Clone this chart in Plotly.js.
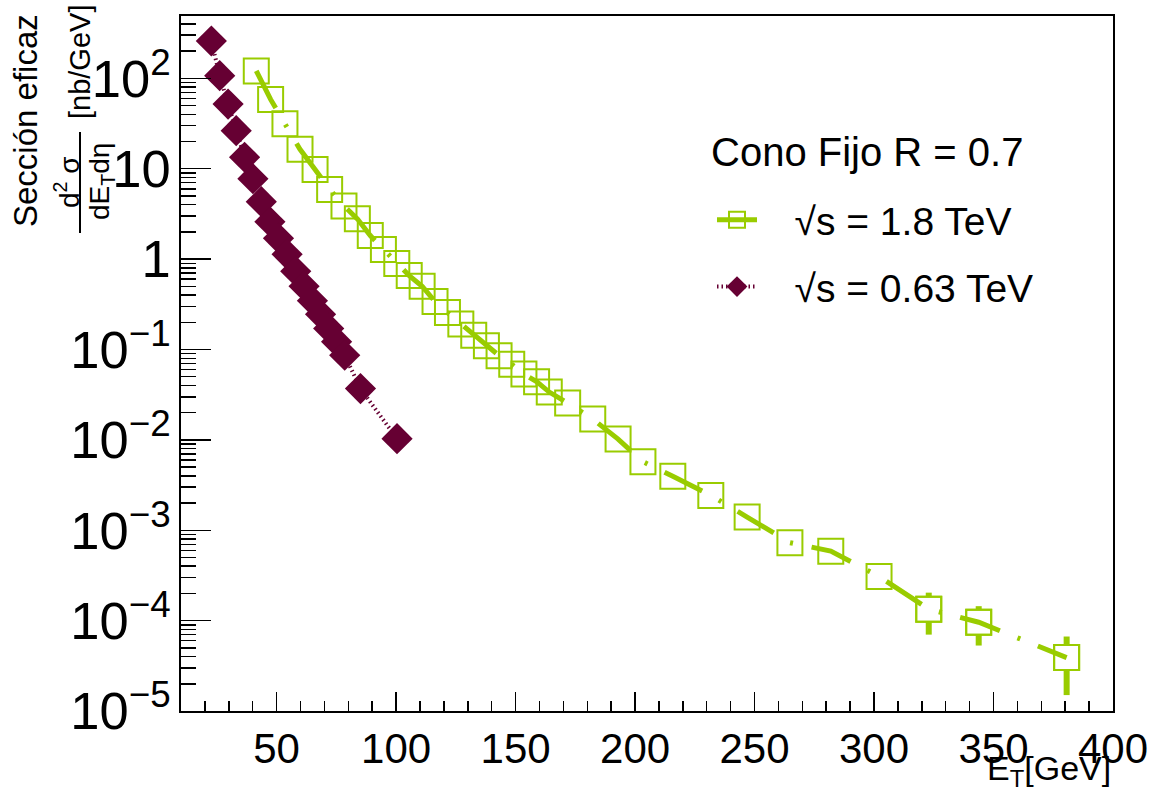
<!DOCTYPE html>
<html>
<head>
<meta charset="utf-8">
<script src="https://cdn.plot.ly/plotly-3.0.1.min.js"></script>
<style>html,body{margin:0;padding:0;background:#fff;}#chart{width:1155px;height:790px;}</style>
</head>
<body>
<div id="chart"></div>
<script>
// ---- data: sqrt(s) = 1.8 TeV ----
const et18 = [41.5, 47.5, 53.5, 59.8, 66.1, 72.2, 78.2, 83.8, 89.2, 94.7, 100.3, 105.5, 110.9, 116.3, 121.5, 127.1, 132.5, 137.8, 143.1, 148.4, 153.5, 158.8, 164.1, 171.8, 182.3, 192.9, 203.3, 215.8, 231.7, 246.9, 264.8, 281.9, 302.1, 322.9, 343.8, 380.6];
const xs18 = [121, 58.5, 31.4, 16.4, 9.83, 5.90, 3.88, 2.79, 1.82, 1.28, 0.892, 0.657, 0.501, 0.340, 0.256, 0.191, 0.144, 0.110, 0.0855, 0.0685, 0.0535, 0.0441, 0.0338, 0.0256, 0.0170, 0.0102, 0.00574, 0.00395, 0.00243, 0.00140, 0.000729, 0.000587, 0.000308, 0.000134, 0.0000960, 0.0000390];
const errUp18 = [0,0,0,0,0,0,0,0,0,0,0,0,0,0,0,0,0,0,0,0,0,0,0,0,0,0,0,0,0,0,0,0,0,7.0e-5,4.85e-5,2.77e-5];
const errDn18 = [0,0,0,0,0,0,0,0,0,0,0,0,0,0,0,0,0,0,0,0,0,0,0,0,0,0,0,0,0,0,0,0,0,6.4e-5,4.3e-5,2.4e-5];
// ---- data: sqrt(s) = 0.63 TeV ----
const et063 = [22.7, 26.2, 29.7, 33.1, 36.6, 40.1, 43.6, 47.2, 50.8, 54.4, 58.0, 61.5, 65.0, 68.4, 71.8, 75.1, 78.5, 85.1, 100.4];
const xs063 = [259, 107, 52.0, 26.4, 13.4, 7.76, 4.32, 2.59, 1.70, 1.13, 0.734, 0.501, 0.346, 0.245, 0.171, 0.122, 0.0863, 0.0369, 0.0103];
// ---- labels ----
const legendHeader = "Cono Fijo R = 0.7";
const name18 = "√s = 1.8 TeV";
const name063 = "√s = 0.63 TeV";

const GREEN = '#99cc00';
const MAROON = '#660033';
const FONT = '"Liberation Sans", Arial, Helvetica, sans-serif';
const PAD = '\u00a0\u00a0\u00a0';

// points that carry visible error bars
const idxErr = et18.map((v, i) => i).filter(i => errUp18[i] > 0);

const traces = [
  { // error bars (hidden inside marker by white fill)
    x: idxErr.map(i => et18[i]), y: idxErr.map(i => xs18[i]),
    type: 'scatter', mode: 'markers', showlegend: false, hoverinfo: 'skip',
    marker: { symbol: 'square', size: 25, color: '#ffffff', line: { color: GREEN, width: 2 } },
    error_y: { type: 'data', symmetric: false, array: idxErr.map(i => errUp18[i]), arrayminus: idxErr.map(i => errDn18[i]),
               color: GREEN, thickness: 6, width: 0 }
  },
  {
    x: et18, y: xs18, name: PAD + name18, type: 'scatter', mode: 'lines+markers',
    line: { color: GREEN, width: 5, dash: '42px,19px,3px,19px' },
    marker: { symbol: 'square-open', size: 25, color: GREEN, line: { color: GREEN, width: 2 } },
    legendgroup: 'a'
  },
  {
    x: et063, y: xs063, name: PAD + name063, type: 'scatter', mode: 'lines+markers',
    line: { color: MAROON, width: 4, dash: '1.5px,3px' },
    marker: { symbol: 'diamond', size: 24, color: MAROON, line: { color: MAROON, width: 0 } },
    legendgroup: 'b'
  }
];

const L = 181, R = 1113, T = 16, B = 711;
const px = v => (v - L) / (R - L);
const py = v => (B - v) / (B - T);

const layout = {
  width: 1155, height: 790,
  margin: { l: L, r: 1155 - R, t: T, b: 790 - B, pad: 0 },
  paper_bgcolor: '#ffffff', plot_bgcolor: '#ffffff',
  font: { family: FONT, color: '#000000', size: 42 },
  showlegend: true,
  legend: {
    x: px(712), y: py(188), xanchor: 'left', yanchor: 'top',
    bgcolor: 'rgba(0,0,0,0)', borderwidth: 0,
    font: { family: FONT, size: 39, color: '#000' },
    traceorder: 'grouped', tracegroupgap: 13, itemwidth: 40
  },
  xaxis: {
    type: 'linear', range: [10, 400], tick0: 0, dtick: 50,
    ticks: 'inside', ticklen: 19, tickwidth: 1.5, tickcolor: '#000',
    minor: { dtick: 10, ticks: 'inside', ticklen: 10, tickwidth: 1.5, tickcolor: '#000' },
    showgrid: false, zeroline: false,
    showline: true, linecolor: '#000', linewidth: 2, mirror: true,
    tickfont: { family: FONT, size: 42, color: '#000' }
  },
  yaxis: {
    type: 'log', range: [-5, 2.69], dtick: 1,
    exponentformat: 'power',
    ticks: 'inside', ticklen: 30, tickwidth: 1.5, tickcolor: '#000',
    minor: { dtick: 'D1', ticks: 'inside', ticklen: 15, tickwidth: 1.5, tickcolor: '#000' },
    showgrid: false, zeroline: false,
    showline: true, linecolor: '#000', linewidth: 2, mirror: true,
    tickfont: { family: FONT, size: 42, color: '#000' }
  },
  annotations: [
    { text: legendHeader, xref: 'paper', yref: 'paper', x: px(709), y: py(152), xanchor: 'left', yanchor: 'middle',
      showarrow: false, font: { family: FONT, size: 40, color: '#000' } },
    { text: 'E<sub>T</sub>[GeV]', xref: 'paper', yref: 'paper', x: 1, y: py(770), xanchor: 'right', yanchor: 'middle',
      showarrow: false, font: { family: FONT, size: 34, color: '#000' } },
    { text: 'Sección eficaz', xref: 'paper', yref: 'paper', x: px(26), y: py(121), xanchor: 'center', yanchor: 'middle',
      textangle: -90, showarrow: false, font: { family: FONT, size: 33, color: '#000' } },
    { text: 'd<sup>2</sup> σ', xref: 'paper', yref: 'paper', x: px(67), y: py(182), xanchor: 'center', yanchor: 'middle',
      textangle: -90, showarrow: false, font: { family: FONT, size: 28, color: '#000' } },
    { text: 'dE<sub>T</sub>dη', xref: 'paper', yref: 'paper', x: px(101), y: py(182), xanchor: 'center', yanchor: 'middle',
      textangle: -90, showarrow: false, font: { family: FONT, size: 28, color: '#000' } },
    { text: '[nb/GeV]', xref: 'paper', yref: 'paper', x: px(80), y: py(62), xanchor: 'center', yanchor: 'middle',
      textangle: -90, showarrow: false, font: { family: FONT, size: 29, color: '#000' } }
  ],
  shapes: [
    { type: 'line', xref: 'paper', yref: 'paper', x0: px(80), x1: px(80), y0: py(132), y1: py(233),
      line: { color: '#000', width: 2 } }
  ]
};

Plotly.newPlot('chart', traces, layout, { displayModeBar: false, staticPlot: true });
</script>
</body>
</html>
